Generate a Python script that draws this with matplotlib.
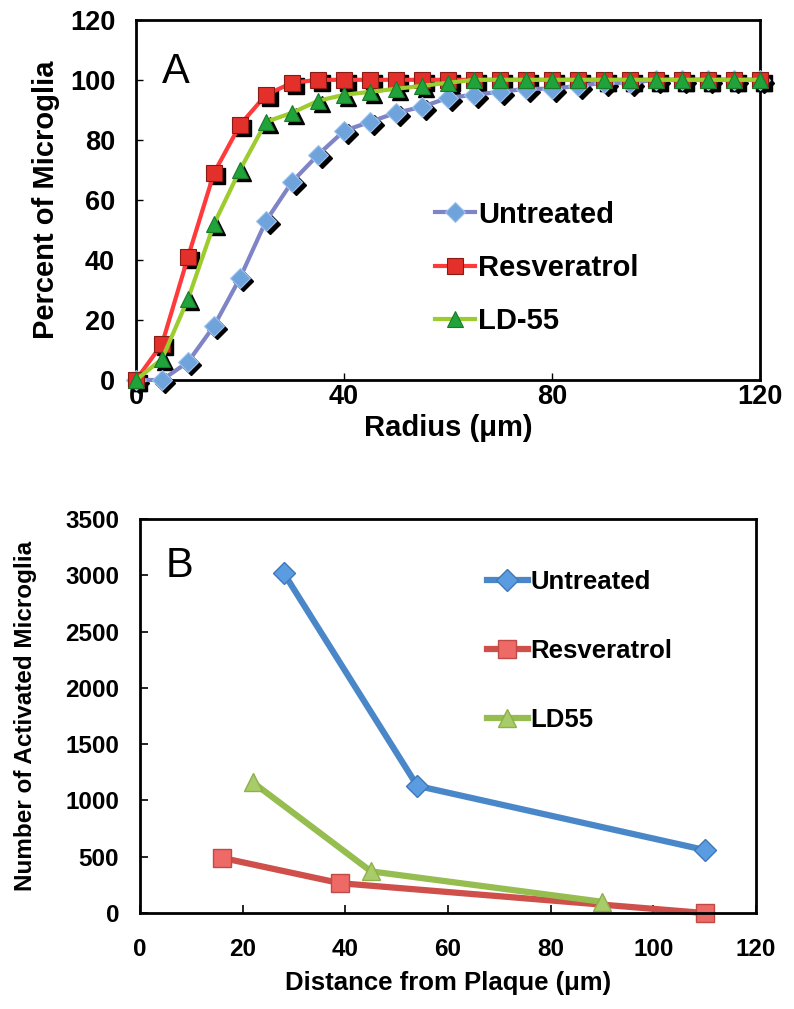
import numpy as np
import matplotlib.pyplot as plt
from matplotlib.transforms import offset_copy

plt.rcParams['font.family'] = ['Liberation Sans', 'DejaVu Sans']

# panel A: cumulative percent of microglia vs radius
radius = [0, 5, 10, 15, 20, 25, 30, 35, 40, 45, 50, 55, 60, 65, 70, 75, 80, 85,
          90, 95, 100, 105, 110, 115, 120]
untreated_a = [0, 0, 6, 18, 34, 53, 66, 75, 83, 86, 89, 91, 94, 95, 96, 97, 97, 98,
               99, 99, 100, 100, 100, 100, 100]
resveratrol_a = [0, 12, 41, 69, 85, 95, 99, 100, 100, 100, 100, 100, 100, 100, 100,
                 100, 100, 100, 100, 100, 100, 100, 100, 100, 100]
ld55_a = [0, 7, 27, 52, 70, 86, 89, 93, 95, 96, 97, 98, 99, 100, 100, 100, 100, 100,
          100, 100, 100, 100, 100, 100, 100]

# panel B: activated microglia vs distance from plaque
untreated_x = [28, 54, 110]
untreated_b = [3020, 1130, 560]
resveratrol_x = [16, 39, 110]
resveratrol_b = [490, 265, 0]
ld55_x = [22, 45, 90]
ld55_b = [1160, 370, 100]

fig = plt.figure(figsize=(7.94, 10.09), dpi=100)

# ---- panel A
ax1 = fig.add_axes([0.1713, 0.6234, 0.786, 0.357])
shadow = offset_copy(ax1.transData, fig=fig, x=2.5, y=-2.5, units='points')
series = [
    (untreated_a, 'Untreated', '#7f84c6', 'D', 10.5, '#6fa3dc', '#9dc3ee'),
    (resveratrol_a, 'Resveratrol', '#ff3a3a', 's', 11.5, '#e3302b', '#8a1a14'),
    (ld55_a, 'LD-55', '#9ccc2e', '^', 12, '#1fa33a', '#1a7a2a'),
]
for y, lab, lc, m, ms, fc, ec in series:
    ax1.plot(radius, y, ls='none', marker=m, ms=ms, mfc='black', mec='black',
             transform=shadow, zorder=2, clip_on=False)
    ax1.plot(radius, y, color=lc, lw=3, marker=m, ms=ms, mfc=fc, mec=ec, mew=0.8,
             label=lab, zorder=3, clip_on=False)

ax1.set_xlim(0, 120)
ax1.set_ylim(0, 120)
ax1.set_xticks([0, 40, 80, 120])
ax1.set_yticks(np.arange(0, 121, 20))
ax1.tick_params(direction='in', length=5, width=1, labelsize=19.5)
ax1.tick_params(axis='y', pad=15)
ax1.tick_params(axis='x', pad=3)
for lbl in ax1.get_xticklabels() + ax1.get_yticklabels():
    lbl.set_fontweight('bold')
for sp in ax1.spines.values():
    sp.set_linewidth(2)
ax1.set_xlabel('Radius (\u03bcm)', fontsize=21, fontweight='bold', labelpad=3)
ax1.set_ylabel('Percent of Microglia', fontsize=21, fontweight='bold', labelpad=7)
ax1.text(0.042, 0.825, 'A', transform=ax1.transAxes, fontsize=30)
ax1.legend(loc='center left', bbox_to_anchor=(0.479, 0.311), frameon=False,
           prop={'size': 21, 'weight': 'bold'}, handlelength=1.37,
           handletextpad=0.1, labelspacing=0.87, borderaxespad=0, borderpad=0)

# ---- panel B
ax2 = fig.add_axes([0.1763, 0.0951, 0.776, 0.3905])
ax2.plot(untreated_x, untreated_b, color='#4a87c9', lw=4.5, marker='D', ms=11,
         mfc='#5b9be0', mec='#3f78b8', label='Untreated', clip_on=False)
ax2.plot(resveratrol_x, resveratrol_b, color='#cf4f4a', lw=4.5, marker='s', ms=12.5,
         mfc='#ee6a66', mec='#c04a46', label='Resveratrol', clip_on=False)
ax2.plot(ld55_x, ld55_b, color='#96bd50', lw=4.5, marker='^', ms=13,
         mfc='#a9cc6a', mec='#8db04a', label='LD55', clip_on=False)

ax2.set_xlim(0, 120)
ax2.set_ylim(0, 3500)
ax2.set_xticks(np.arange(0, 121, 20))
ax2.set_yticks(np.arange(0, 3501, 500))
ax2.tick_params(direction='in', length=6, width=1.2, labelsize=17.5)
ax2.tick_params(axis='y', pad=15)
ax2.tick_params(axis='x', pad=18)
for lbl in ax2.get_xticklabels() + ax2.get_yticklabels():
    lbl.set_fontweight('bold')
for sp in ax2.spines.values():
    sp.set_linewidth(2)
ax2.set_xlabel('Distance from Plaque (\u03bcm)', fontsize=18.5, fontweight='bold', labelpad=7)
ax2.set_ylabel('Number of Activated Microglia', fontsize=17.5, fontweight='bold', labelpad=20)
ax2.text(0.042, 0.853, 'B', transform=ax2.transAxes, fontsize=30)
ax2.legend(loc='center left', bbox_to_anchor=(0.563, 0.665), frameon=False,
           prop={'size': 18.5, 'weight': 'bold'}, handlelength=1.6,
           handletextpad=0.1, labelspacing=1.75, borderaxespad=0, borderpad=0)

plt.savefig('out.png', dpi=100)
